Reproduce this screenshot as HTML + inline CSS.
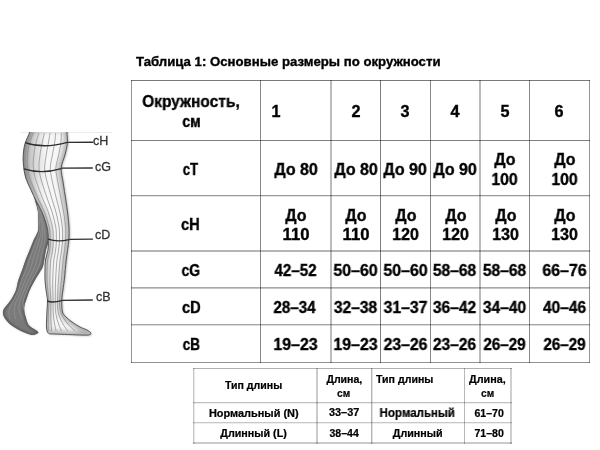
<!DOCTYPE html>
<html><head><meta charset="utf-8"><style>
html,body{margin:0;padding:0;background:#fff;width:600px;height:450px;overflow:hidden}
body{position:relative;-webkit-text-stroke:0.35px #000;font-family:"Liberation Sans",sans-serif;font-weight:bold;color:#000}
.t{position:absolute;white-space:nowrap;will-change:transform}
.c{width:0;display:flex;justify-content:center}
.c span{display:inline-block;white-space:nowrap;transform-origin:50% 50%}
.l{position:absolute;mix-blend-mode:multiply}
svg{position:absolute;left:0;top:0}
.lab{position:absolute;font-weight:normal;-webkit-text-stroke:0.3px #333;font-size:12.5px;line-height:13px;color:#333;will-change:transform}
</style></head><body>
<svg width="130" height="345" viewBox="0 0 130 345">
<defs>
<clipPath id="cf"><path d="M55.00,128.00 C59.48,128.00 64.92,127.30 66.90,128.00 C68.88,128.70 66.82,129.70 66.90,132.20 C66.98,134.70 67.73,139.20 67.40,143.00 C67.07,146.80 65.93,150.83 64.90,155.00 C63.87,159.17 61.48,163.33 61.20,168.00 C60.92,172.67 62.43,177.67 63.20,183.00 C63.97,188.33 65.02,194.67 65.80,200.00 C66.58,205.33 67.37,210.33 67.90,215.00 C68.43,219.67 68.85,223.83 69.00,228.00 C69.15,232.17 69.27,234.67 68.80,240.00 C68.33,245.33 66.92,253.67 66.20,260.00 C65.48,266.33 65.05,273.00 64.50,278.00 C63.95,283.00 63.37,286.33 62.90,290.00 C62.43,293.67 61.77,296.33 61.70,300.00 C61.63,303.67 61.78,309.17 62.50,312.00 C63.22,314.83 64.42,315.33 66.00,317.00 C67.58,318.67 69.67,320.33 72.00,322.00 C74.33,323.67 77.50,325.67 80.00,327.00 C82.50,328.33 85.23,329.03 87.00,330.00 C88.77,330.97 90.35,331.97 90.60,332.80 C90.85,333.63 91.10,334.67 88.50,335.00 C85.90,335.33 80.58,334.97 75.00,334.80 C69.42,334.63 59.42,334.25 55.00,334.00 C50.58,333.75 49.92,334.30 48.50,333.30 C47.08,332.30 46.82,330.22 46.50,328.00 C46.18,325.78 46.52,323.00 46.60,320.00 C46.68,317.00 46.85,313.33 47.00,310.00 C47.15,306.67 47.67,303.33 47.50,300.00 C47.33,296.67 46.42,293.33 46.00,290.00 C45.58,286.67 45.17,283.33 45.00,280.00 C44.83,276.67 44.92,273.33 45.00,270.00 C45.08,266.67 45.00,263.33 45.50,260.00 C46.00,256.67 47.53,253.33 48.00,250.00 C48.47,246.67 48.35,243.33 48.30,240.00 C48.25,236.67 48.25,233.33 47.70,230.00 C47.15,226.67 46.12,223.33 45.00,220.00 C43.88,216.67 42.55,213.33 41.00,210.00 C39.45,206.67 37.37,203.33 35.70,200.00 C34.03,196.67 32.70,193.83 31.00,190.00 C29.30,186.17 26.78,181.50 25.50,177.00 C24.22,172.50 23.63,167.17 23.30,163.00 C22.97,158.83 23.18,155.33 23.50,152.00 C23.82,148.67 24.17,146.30 25.20,143.00 C26.23,139.70 28.95,134.70 29.70,132.20 C30.45,129.70 27.98,128.70 29.70,128.00 C31.42,127.30 35.78,128.00 40.00,128.00 C44.22,128.00 50.52,128.00 55.00,128.00Z"/></clipPath>
<clipPath id="cd"><path d="M34.50,197.00 C34.28,199.33 37.05,206.17 37.70,210.00 C38.35,213.83 38.32,216.67 38.40,220.00 C38.48,223.33 38.55,227.50 38.20,230.00 C37.85,232.50 37.05,233.33 36.30,235.00 C35.55,236.67 34.80,237.50 33.70,240.00 C32.60,242.50 31.05,246.67 29.70,250.00 C28.35,253.33 26.85,256.67 25.60,260.00 C24.35,263.33 23.40,266.67 22.20,270.00 C21.00,273.33 19.43,276.67 18.40,280.00 C17.37,283.33 17.15,286.83 16.00,290.00 C14.85,293.17 13.00,296.50 11.50,299.00 C10.00,301.50 8.35,303.17 7.00,305.00 C5.65,306.83 4.02,308.33 3.40,310.00 C2.78,311.67 2.85,313.33 3.30,315.00 C3.75,316.67 4.82,318.33 6.10,320.00 C7.38,321.67 8.85,323.33 11.00,325.00 C13.15,326.67 16.33,328.58 19.00,330.00 C21.67,331.42 24.67,332.67 27.00,333.50 C29.33,334.33 31.12,335.12 33.00,335.00 C34.88,334.88 37.87,333.63 38.30,332.80 C38.73,331.97 36.62,330.80 35.60,330.00 C34.58,329.20 33.42,328.92 32.20,328.00 C30.98,327.08 29.33,326.17 28.30,324.50 C27.27,322.83 26.65,320.08 26.00,318.00 C25.35,315.92 24.67,314.00 24.40,312.00 C24.13,310.00 24.05,308.17 24.40,306.00 C24.75,303.83 25.60,301.67 26.50,299.00 C27.40,296.33 28.38,293.17 29.80,290.00 C31.22,286.83 33.22,283.17 35.00,280.00 C36.78,276.83 39.12,273.50 40.50,271.00 C41.88,268.50 42.38,268.50 43.30,265.00 C44.22,261.50 44.88,255.00 46.00,250.00 C47.12,245.00 50.00,240.83 50.00,235.00 C50.00,229.17 47.83,221.50 46.00,215.00 C44.17,208.50 40.92,199.00 39.00,196.00 C37.08,193.00 34.72,194.67 34.50,197.00Z"/></clipPath>
<clipPath id="top"><rect x="0" y="132" width="130" height="220"/></clipPath>
<filter id="bl" x="-30%" y="-5%" width="160%" height="110%"><feGaussianBlur stdDeviation="2.2"/></filter>
<filter id="bs" x="-30%" y="-5%" width="160%" height="110%"><feGaussianBlur stdDeviation="1.0"/></filter>
<linearGradient id="lg" gradientUnits="userSpaceOnUse" x1="22" y1="0" x2="46" y2="0"><stop offset="0" stop-color="#000" stop-opacity="0.28"/><stop offset="1" stop-color="#000" stop-opacity="0"/></linearGradient>
<linearGradient id="lgv" gradientUnits="userSpaceOnUse" x1="0" y1="175" x2="0" y2="215"><stop offset="0" stop-color="#fff" stop-opacity="1"/><stop offset="1" stop-color="#fff" stop-opacity="0"/></linearGradient>
<mask id="mk"><rect x="0" y="0" width="130" height="345" fill="url(#lgv)"/></mask>
<filter id="sh2" x="-30%" y="-5%" width="160%" height="110%"><feGaussianBlur stdDeviation="1.1"/></filter>
<filter id="sh" x="-30%" y="-5%" width="160%" height="110%"><feGaussianBlur stdDeviation="0.8"/></filter>
</defs>
<line x1="20" y1="132.5" x2="112" y2="132.5" stroke="#ececec" stroke-width="1"/>
<g clip-path="url(#top)">
<path d="M34.50,197.00 C34.28,199.33 37.05,206.17 37.70,210.00 C38.35,213.83 38.32,216.67 38.40,220.00 C38.48,223.33 38.55,227.50 38.20,230.00 C37.85,232.50 37.05,233.33 36.30,235.00 C35.55,236.67 34.80,237.50 33.70,240.00 C32.60,242.50 31.05,246.67 29.70,250.00 C28.35,253.33 26.85,256.67 25.60,260.00 C24.35,263.33 23.40,266.67 22.20,270.00 C21.00,273.33 19.43,276.67 18.40,280.00 C17.37,283.33 17.15,286.83 16.00,290.00 C14.85,293.17 13.00,296.50 11.50,299.00 C10.00,301.50 8.35,303.17 7.00,305.00 C5.65,306.83 4.02,308.33 3.40,310.00 C2.78,311.67 2.85,313.33 3.30,315.00 C3.75,316.67 4.82,318.33 6.10,320.00 C7.38,321.67 8.85,323.33 11.00,325.00 C13.15,326.67 16.33,328.58 19.00,330.00 C21.67,331.42 24.67,332.67 27.00,333.50 C29.33,334.33 31.12,335.12 33.00,335.00 C34.88,334.88 37.87,333.63 38.30,332.80 C38.73,331.97 36.62,330.80 35.60,330.00 C34.58,329.20 33.42,328.92 32.20,328.00 C30.98,327.08 29.33,326.17 28.30,324.50 C27.27,322.83 26.65,320.08 26.00,318.00 C25.35,315.92 24.67,314.00 24.40,312.00 C24.13,310.00 24.05,308.17 24.40,306.00 C24.75,303.83 25.60,301.67 26.50,299.00 C27.40,296.33 28.38,293.17 29.80,290.00 C31.22,286.83 33.22,283.17 35.00,280.00 C36.78,276.83 39.12,273.50 40.50,271.00 C41.88,268.50 42.38,268.50 43.30,265.00 C44.22,261.50 44.88,255.00 46.00,250.00 C47.12,245.00 50.00,240.83 50.00,235.00 C50.00,229.17 47.83,221.50 46.00,215.00 C44.17,208.50 40.92,199.00 39.00,196.00 C37.08,193.00 34.72,194.67 34.50,197.00Z" fill="#9a9a9a" filter="url(#sh)" opacity="0.6"/>
<path d="M34.50,197.00 C34.28,199.33 37.05,206.17 37.70,210.00 C38.35,213.83 38.32,216.67 38.40,220.00 C38.48,223.33 38.55,227.50 38.20,230.00 C37.85,232.50 37.05,233.33 36.30,235.00 C35.55,236.67 34.80,237.50 33.70,240.00 C32.60,242.50 31.05,246.67 29.70,250.00 C28.35,253.33 26.85,256.67 25.60,260.00 C24.35,263.33 23.40,266.67 22.20,270.00 C21.00,273.33 19.43,276.67 18.40,280.00 C17.37,283.33 17.15,286.83 16.00,290.00 C14.85,293.17 13.00,296.50 11.50,299.00 C10.00,301.50 8.35,303.17 7.00,305.00 C5.65,306.83 4.02,308.33 3.40,310.00 C2.78,311.67 2.85,313.33 3.30,315.00 C3.75,316.67 4.82,318.33 6.10,320.00 C7.38,321.67 8.85,323.33 11.00,325.00 C13.15,326.67 16.33,328.58 19.00,330.00 C21.67,331.42 24.67,332.67 27.00,333.50 C29.33,334.33 31.12,335.12 33.00,335.00 C34.88,334.88 37.87,333.63 38.30,332.80 C38.73,331.97 36.62,330.80 35.60,330.00 C34.58,329.20 33.42,328.92 32.20,328.00 C30.98,327.08 29.33,326.17 28.30,324.50 C27.27,322.83 26.65,320.08 26.00,318.00 C25.35,315.92 24.67,314.00 24.40,312.00 C24.13,310.00 24.05,308.17 24.40,306.00 C24.75,303.83 25.60,301.67 26.50,299.00 C27.40,296.33 28.38,293.17 29.80,290.00 C31.22,286.83 33.22,283.17 35.00,280.00 C36.78,276.83 39.12,273.50 40.50,271.00 C41.88,268.50 42.38,268.50 43.30,265.00 C44.22,261.50 44.88,255.00 46.00,250.00 C47.12,245.00 50.00,240.83 50.00,235.00 C50.00,229.17 47.83,221.50 46.00,215.00 C44.17,208.50 40.92,199.00 39.00,196.00 C37.08,193.00 34.72,194.67 34.50,197.00Z" fill="#7a7a7a"/>
<g clip-path="url(#cd)">
<path d="M34.50,197.00 C34.28,199.33 37.05,206.17 37.70,210.00 C38.35,213.83 38.32,216.67 38.40,220.00 C38.48,223.33 38.55,227.50 38.20,230.00 C37.85,232.50 37.05,233.33 36.30,235.00 C35.55,236.67 34.80,237.50 33.70,240.00 C32.60,242.50 31.05,246.67 29.70,250.00 C28.35,253.33 26.85,256.67 25.60,260.00 C24.35,263.33 23.40,266.67 22.20,270.00 C21.00,273.33 19.43,276.67 18.40,280.00 C17.37,283.33 17.15,286.83 16.00,290.00 C14.85,293.17 13.00,296.50 11.50,299.00 C10.00,301.50 8.35,303.17 7.00,305.00 C5.65,306.83 4.02,308.33 3.40,310.00 C2.78,311.67 2.85,313.33 3.30,315.00 C3.75,316.67 4.82,318.33 6.10,320.00 C7.38,321.67 8.85,323.33 11.00,325.00 C13.15,326.67 16.33,328.58 19.00,330.00 C21.67,331.42 24.67,332.67 27.00,333.50 C29.33,334.33 31.12,335.12 33.00,335.00 C34.88,334.88 37.87,333.63 38.30,332.80 C38.73,331.97 36.62,330.80 35.60,330.00 C34.58,329.20 33.42,328.92 32.20,328.00 C30.98,327.08 29.33,326.17 28.30,324.50 C27.27,322.83 26.65,320.08 26.00,318.00 C25.35,315.92 24.67,314.00 24.40,312.00 C24.13,310.00 24.05,308.17 24.40,306.00 C24.75,303.83 25.60,301.67 26.50,299.00 C27.40,296.33 28.38,293.17 29.80,290.00 C31.22,286.83 33.22,283.17 35.00,280.00 C36.78,276.83 39.12,273.50 40.50,271.00 C41.88,268.50 42.38,268.50 43.30,265.00 C44.22,261.50 44.88,255.00 46.00,250.00 C47.12,245.00 50.00,240.83 50.00,235.00 C50.00,229.17 47.83,221.50 46.00,215.00 C44.17,208.50 40.92,199.00 39.00,196.00 C37.08,193.00 34.72,194.67 34.50,197.00Z" fill="none" stroke="#585858" stroke-width="3" filter="url(#bs)"/>
<path d="M37.27,205.00 C37.49,206.00 38.27,209.00 38.59,211.00 C38.92,213.00 39.04,215.00 39.21,217.00 C39.38,219.00 39.50,221.00 39.59,223.00 C39.68,225.00 39.93,227.00 39.74,229.00 C39.54,231.00 39.03,233.00 38.44,235.00 C37.85,237.00 36.93,239.00 36.20,241.00 C35.47,243.00 34.76,245.00 34.04,247.00 C33.32,249.00 32.59,251.00 31.86,253.00 C31.12,255.00 30.33,257.00 29.65,259.00 C28.97,261.00 28.46,263.00 27.78,265.00 C27.10,267.00 26.35,269.00 25.56,271.00 C24.76,273.00 23.79,275.00 23.00,277.00 C22.21,279.00 21.49,281.00 20.83,283.00 C20.17,285.00 19.80,287.00 19.06,289.00 C18.32,291.00 17.36,293.00 16.39,295.00 C15.43,297.00 14.34,299.00 13.28,301.00 C12.21,303.00 10.74,305.00 10.00,307.00 C9.26,309.00 8.91,311.00 8.85,313.00 C8.80,315.00 9.53,318.00 9.66,319.00" fill="none" stroke="#909090" stroke-width="0.9"/><path d="M38.07,205.00 C38.29,206.00 39.05,209.00 39.41,211.00 C39.78,213.00 39.99,215.00 40.23,217.00 C40.47,219.00 40.67,221.00 40.84,223.00 C41.01,225.00 41.30,227.00 41.25,229.00 C41.21,231.00 40.94,233.00 40.58,235.00 C40.22,237.00 39.67,239.00 39.10,241.00 C38.53,243.00 37.82,245.00 37.18,247.00 C36.54,249.00 35.89,251.00 35.24,253.00 C34.59,255.00 33.88,257.00 33.29,259.00 C32.69,261.00 32.33,263.00 31.66,265.00 C30.99,267.00 30.16,269.00 29.29,271.00 C28.42,273.00 27.34,275.00 26.46,277.00 C25.57,279.00 24.75,281.00 23.98,283.00 C23.22,285.00 22.65,287.00 21.87,289.00 C21.09,291.00 20.17,293.00 19.29,295.00 C18.40,297.00 17.36,299.00 16.55,301.00 C15.74,303.00 14.80,305.00 14.44,307.00 C14.08,309.00 14.10,311.00 14.37,313.00 C14.63,315.00 15.75,318.00 16.03,319.00" fill="none" stroke="#909090" stroke-width="0.9"/><path d="M38.87,205.00 C39.10,206.00 39.84,209.00 40.24,211.00 C40.63,213.00 40.94,215.00 41.25,217.00 C41.56,219.00 41.84,221.00 42.10,223.00 C42.35,225.00 42.66,227.00 42.77,229.00 C42.87,231.00 42.85,233.00 42.72,235.00 C42.59,237.00 42.40,239.00 42.00,241.00 C41.60,243.00 40.88,245.00 40.32,247.00 C39.76,249.00 39.19,251.00 38.63,253.00 C38.06,255.00 37.44,257.00 36.92,259.00 C36.41,261.00 36.19,263.00 35.54,265.00 C34.89,267.00 33.97,269.00 33.03,271.00 C32.09,273.00 30.90,275.00 29.92,277.00 C28.93,279.00 28.01,281.00 27.14,283.00 C26.26,285.00 25.51,287.00 24.69,289.00 C23.86,291.00 22.99,293.00 22.18,295.00 C21.37,297.00 20.38,299.00 19.83,301.00 C19.28,303.00 18.87,305.00 18.88,307.00 C18.89,309.00 19.29,311.00 19.88,313.00 C20.47,315.00 21.97,318.00 22.39,319.00" fill="none" stroke="#909090" stroke-width="0.9"/><path d="M39.67,205.00 C39.90,206.00 40.63,209.00 41.06,211.00 C41.49,213.00 41.89,215.00 42.27,217.00 C42.65,219.00 43.01,221.00 43.35,223.00 C43.68,225.00 44.03,227.00 44.28,229.00 C44.54,231.00 44.76,233.00 44.86,235.00 C44.96,237.00 45.13,239.00 44.90,241.00 C44.67,243.00 43.94,245.00 43.46,247.00 C42.98,249.00 42.50,251.00 42.01,253.00 C41.53,255.00 40.99,257.00 40.56,259.00 C40.13,261.00 40.05,263.00 39.42,265.00 C38.79,267.00 37.77,269.00 36.76,271.00 C35.76,273.00 34.45,275.00 33.37,277.00 C32.30,279.00 31.27,281.00 30.29,283.00 C29.31,285.00 28.37,287.00 27.50,289.00 C26.63,291.00 25.81,293.00 25.07,295.00 C24.34,297.00 23.40,299.00 23.10,301.00 C22.81,303.00 22.94,305.00 23.32,307.00 C23.70,309.00 24.49,311.00 25.39,313.00 C26.30,315.00 28.20,318.00 28.76,319.00" fill="none" stroke="#909090" stroke-width="0.9"/>
</g>
<path d="M55.00,128.00 C59.48,128.00 64.92,127.30 66.90,128.00 C68.88,128.70 66.82,129.70 66.90,132.20 C66.98,134.70 67.73,139.20 67.40,143.00 C67.07,146.80 65.93,150.83 64.90,155.00 C63.87,159.17 61.48,163.33 61.20,168.00 C60.92,172.67 62.43,177.67 63.20,183.00 C63.97,188.33 65.02,194.67 65.80,200.00 C66.58,205.33 67.37,210.33 67.90,215.00 C68.43,219.67 68.85,223.83 69.00,228.00 C69.15,232.17 69.27,234.67 68.80,240.00 C68.33,245.33 66.92,253.67 66.20,260.00 C65.48,266.33 65.05,273.00 64.50,278.00 C63.95,283.00 63.37,286.33 62.90,290.00 C62.43,293.67 61.77,296.33 61.70,300.00 C61.63,303.67 61.78,309.17 62.50,312.00 C63.22,314.83 64.42,315.33 66.00,317.00 C67.58,318.67 69.67,320.33 72.00,322.00 C74.33,323.67 77.50,325.67 80.00,327.00 C82.50,328.33 85.23,329.03 87.00,330.00 C88.77,330.97 90.35,331.97 90.60,332.80 C90.85,333.63 91.10,334.67 88.50,335.00 C85.90,335.33 80.58,334.97 75.00,334.80 C69.42,334.63 59.42,334.25 55.00,334.00 C50.58,333.75 49.92,334.30 48.50,333.30 C47.08,332.30 46.82,330.22 46.50,328.00 C46.18,325.78 46.52,323.00 46.60,320.00 C46.68,317.00 46.85,313.33 47.00,310.00 C47.15,306.67 47.67,303.33 47.50,300.00 C47.33,296.67 46.42,293.33 46.00,290.00 C45.58,286.67 45.17,283.33 45.00,280.00 C44.83,276.67 44.92,273.33 45.00,270.00 C45.08,266.67 45.00,263.33 45.50,260.00 C46.00,256.67 47.53,253.33 48.00,250.00 C48.47,246.67 48.35,243.33 48.30,240.00 C48.25,236.67 48.25,233.33 47.70,230.00 C47.15,226.67 46.12,223.33 45.00,220.00 C43.88,216.67 42.55,213.33 41.00,210.00 C39.45,206.67 37.37,203.33 35.70,200.00 C34.03,196.67 32.70,193.83 31.00,190.00 C29.30,186.17 26.78,181.50 25.50,177.00 C24.22,172.50 23.63,167.17 23.30,163.00 C22.97,158.83 23.18,155.33 23.50,152.00 C23.82,148.67 24.17,146.30 25.20,143.00 C26.23,139.70 28.95,134.70 29.70,132.20 C30.45,129.70 27.98,128.70 29.70,128.00 C31.42,127.30 35.78,128.00 40.00,128.00 C44.22,128.00 50.52,128.00 55.00,128.00Z" fill="#707070" filter="url(#sh2)" opacity="0.55" transform="translate(1,0.6)"/>
<path d="M55.00,128.00 C59.48,128.00 64.92,127.30 66.90,128.00 C68.88,128.70 66.82,129.70 66.90,132.20 C66.98,134.70 67.73,139.20 67.40,143.00 C67.07,146.80 65.93,150.83 64.90,155.00 C63.87,159.17 61.48,163.33 61.20,168.00 C60.92,172.67 62.43,177.67 63.20,183.00 C63.97,188.33 65.02,194.67 65.80,200.00 C66.58,205.33 67.37,210.33 67.90,215.00 C68.43,219.67 68.85,223.83 69.00,228.00 C69.15,232.17 69.27,234.67 68.80,240.00 C68.33,245.33 66.92,253.67 66.20,260.00 C65.48,266.33 65.05,273.00 64.50,278.00 C63.95,283.00 63.37,286.33 62.90,290.00 C62.43,293.67 61.77,296.33 61.70,300.00 C61.63,303.67 61.78,309.17 62.50,312.00 C63.22,314.83 64.42,315.33 66.00,317.00 C67.58,318.67 69.67,320.33 72.00,322.00 C74.33,323.67 77.50,325.67 80.00,327.00 C82.50,328.33 85.23,329.03 87.00,330.00 C88.77,330.97 90.35,331.97 90.60,332.80 C90.85,333.63 91.10,334.67 88.50,335.00 C85.90,335.33 80.58,334.97 75.00,334.80 C69.42,334.63 59.42,334.25 55.00,334.00 C50.58,333.75 49.92,334.30 48.50,333.30 C47.08,332.30 46.82,330.22 46.50,328.00 C46.18,325.78 46.52,323.00 46.60,320.00 C46.68,317.00 46.85,313.33 47.00,310.00 C47.15,306.67 47.67,303.33 47.50,300.00 C47.33,296.67 46.42,293.33 46.00,290.00 C45.58,286.67 45.17,283.33 45.00,280.00 C44.83,276.67 44.92,273.33 45.00,270.00 C45.08,266.67 45.00,263.33 45.50,260.00 C46.00,256.67 47.53,253.33 48.00,250.00 C48.47,246.67 48.35,243.33 48.30,240.00 C48.25,236.67 48.25,233.33 47.70,230.00 C47.15,226.67 46.12,223.33 45.00,220.00 C43.88,216.67 42.55,213.33 41.00,210.00 C39.45,206.67 37.37,203.33 35.70,200.00 C34.03,196.67 32.70,193.83 31.00,190.00 C29.30,186.17 26.78,181.50 25.50,177.00 C24.22,172.50 23.63,167.17 23.30,163.00 C22.97,158.83 23.18,155.33 23.50,152.00 C23.82,148.67 24.17,146.30 25.20,143.00 C26.23,139.70 28.95,134.70 29.70,132.20 C30.45,129.70 27.98,128.70 29.70,128.00 C31.42,127.30 35.78,128.00 40.00,128.00 C44.22,128.00 50.52,128.00 55.00,128.00Z" fill="#f6f6f6"/>
<g clip-path="url(#cf)">
<path d="M55.00,128.00 C59.48,128.00 64.92,127.30 66.90,128.00 C68.88,128.70 66.82,129.70 66.90,132.20 C66.98,134.70 67.73,139.20 67.40,143.00 C67.07,146.80 65.93,150.83 64.90,155.00 C63.87,159.17 61.48,163.33 61.20,168.00 C60.92,172.67 62.43,177.67 63.20,183.00 C63.97,188.33 65.02,194.67 65.80,200.00 C66.58,205.33 67.37,210.33 67.90,215.00 C68.43,219.67 68.85,223.83 69.00,228.00 C69.15,232.17 69.27,234.67 68.80,240.00 C68.33,245.33 66.92,253.67 66.20,260.00 C65.48,266.33 65.05,273.00 64.50,278.00 C63.95,283.00 63.37,286.33 62.90,290.00 C62.43,293.67 61.77,296.33 61.70,300.00 C61.63,303.67 61.78,309.17 62.50,312.00 C63.22,314.83 64.42,315.33 66.00,317.00 C67.58,318.67 69.67,320.33 72.00,322.00 C74.33,323.67 77.50,325.67 80.00,327.00 C82.50,328.33 85.23,329.03 87.00,330.00 C88.77,330.97 90.35,331.97 90.60,332.80 C90.85,333.63 91.10,334.67 88.50,335.00 C85.90,335.33 80.58,334.97 75.00,334.80 C69.42,334.63 59.42,334.25 55.00,334.00 C50.58,333.75 49.92,334.30 48.50,333.30 C47.08,332.30 46.82,330.22 46.50,328.00 C46.18,325.78 46.52,323.00 46.60,320.00 C46.68,317.00 46.85,313.33 47.00,310.00 C47.15,306.67 47.67,303.33 47.50,300.00 C47.33,296.67 46.42,293.33 46.00,290.00 C45.58,286.67 45.17,283.33 45.00,280.00 C44.83,276.67 44.92,273.33 45.00,270.00 C45.08,266.67 45.00,263.33 45.50,260.00 C46.00,256.67 47.53,253.33 48.00,250.00 C48.47,246.67 48.35,243.33 48.30,240.00 C48.25,236.67 48.25,233.33 47.70,230.00 C47.15,226.67 46.12,223.33 45.00,220.00 C43.88,216.67 42.55,213.33 41.00,210.00 C39.45,206.67 37.37,203.33 35.70,200.00 C34.03,196.67 32.70,193.83 31.00,190.00 C29.30,186.17 26.78,181.50 25.50,177.00 C24.22,172.50 23.63,167.17 23.30,163.00 C22.97,158.83 23.18,155.33 23.50,152.00 C23.82,148.67 24.17,146.30 25.20,143.00 C26.23,139.70 28.95,134.70 29.70,132.20 C30.45,129.70 27.98,128.70 29.70,128.00 C31.42,127.30 35.78,128.00 40.00,128.00 C44.22,128.00 50.52,128.00 55.00,128.00Z" fill="none" stroke="#b4b4b4" stroke-width="7" filter="url(#bl)"/>
<rect x="0" y="128" width="130" height="100" fill="url(#lg)" mask="url(#mk)"/>
<path d="M33.12,133.00 C32.75,134.00 31.58,137.00 30.90,139.00 C30.22,141.00 29.54,143.00 29.04,145.00 C28.54,147.00 28.15,149.00 27.89,151.00 C27.64,153.00 27.61,155.00 27.50,157.00 C27.39,159.00 27.16,161.00 27.23,163.00 C27.31,165.00 27.68,167.00 27.95,169.00 C28.23,171.00 28.41,173.00 28.88,175.00 C29.35,177.00 30.06,179.00 30.77,181.00 C31.48,183.00 32.33,185.00 33.14,187.00 C33.95,189.00 34.79,191.00 35.64,193.00 C36.50,195.00 37.35,197.00 38.27,199.00 C39.19,201.00 40.21,203.00 41.16,205.00 C42.12,207.00 43.15,209.00 43.99,211.00 C44.84,213.00 45.54,215.00 46.23,217.00 C46.91,219.00 47.53,221.00 48.09,223.00 C48.65,225.00 49.25,227.00 49.59,229.00 C49.92,231.00 49.97,233.00 50.09,235.00 C50.21,237.00 50.31,239.00 50.31,241.00 C50.31,243.00 50.25,245.00 50.07,247.00 C49.89,249.00 49.61,251.00 49.24,253.00 C48.86,255.00 48.13,257.00 47.81,259.00 C47.48,261.00 47.43,263.00 47.30,265.00 C47.17,267.00 47.07,269.00 47.02,271.00 C46.96,273.00 46.94,275.00 46.96,277.00 C46.98,279.00 47.04,281.00 47.15,283.00 C47.26,285.00 47.42,287.00 47.61,289.00 C47.81,291.00 48.09,293.00 48.30,295.00 C48.52,297.00 48.82,299.00 48.88,301.00 C48.93,303.00 48.70,305.00 48.62,307.00 C48.54,309.00 48.47,311.00 48.40,313.00 C48.34,315.00 48.27,317.00 48.24,319.00 C48.21,321.00 48.21,323.00 48.22,325.00 C48.23,327.00 48.27,330.00 48.28,331.00" fill="none" stroke="#8f8f8f" stroke-width="0.75"/><path d="M38.76,133.00 C38.46,134.00 37.52,137.00 36.95,139.00 C36.39,141.00 35.82,143.00 35.36,145.00 C34.90,147.00 34.49,149.00 34.20,151.00 C33.91,153.00 33.82,155.00 33.64,157.00 C33.46,159.00 33.15,161.00 33.13,163.00 C33.11,165.00 33.30,167.00 33.52,169.00 C33.73,171.00 33.99,173.00 34.42,175.00 C34.86,177.00 35.49,179.00 36.13,181.00 C36.77,183.00 37.52,185.00 38.25,187.00 C38.98,189.00 39.73,191.00 40.49,193.00 C41.25,195.00 42.02,197.00 42.83,199.00 C43.65,201.00 44.55,203.00 45.39,205.00 C46.23,207.00 47.14,209.00 47.88,211.00 C48.63,213.00 49.26,215.00 49.87,217.00 C50.47,219.00 51.01,221.00 51.50,223.00 C51.99,225.00 52.53,227.00 52.82,229.00 C53.10,231.00 53.13,233.00 53.22,235.00 C53.31,237.00 53.40,239.00 53.37,241.00 C53.34,243.00 53.23,245.00 53.04,247.00 C52.85,249.00 52.57,251.00 52.22,253.00 C51.86,255.00 51.20,257.00 50.89,259.00 C50.59,261.00 50.51,263.00 50.37,265.00 C50.23,267.00 50.12,269.00 50.04,271.00 C49.96,273.00 49.92,275.00 49.90,277.00 C49.88,279.00 49.89,281.00 49.93,283.00 C49.98,285.00 50.07,287.00 50.18,289.00 C50.30,291.00 50.50,293.00 50.64,295.00 C50.78,297.00 50.99,299.00 51.02,301.00 C51.05,303.00 50.87,305.00 50.83,307.00 C50.78,309.00 50.76,311.00 50.77,313.00 C50.77,315.00 50.79,317.00 50.87,319.00 C50.94,321.00 51.07,323.00 51.21,325.00 C51.36,327.00 51.66,330.00 51.75,331.00" fill="none" stroke="#8f8f8f" stroke-width="0.75"/><path d="M44.39,133.00 C44.16,134.00 43.46,137.00 43.01,139.00 C42.55,141.00 42.10,143.00 41.69,145.00 C41.27,147.00 40.82,149.00 40.51,151.00 C40.19,153.00 40.02,155.00 39.78,157.00 C39.53,159.00 39.15,161.00 39.03,163.00 C38.91,165.00 38.92,167.00 39.08,169.00 C39.23,171.00 39.56,173.00 39.96,175.00 C40.37,177.00 40.92,179.00 41.49,181.00 C42.06,183.00 42.72,185.00 43.36,187.00 C44.00,189.00 44.67,191.00 45.34,193.00 C46.01,195.00 46.68,197.00 47.40,199.00 C48.11,201.00 48.88,203.00 49.61,205.00 C50.34,207.00 51.13,209.00 51.78,211.00 C52.43,213.00 52.98,215.00 53.51,217.00 C54.03,219.00 54.49,221.00 54.92,223.00 C55.34,225.00 55.81,227.00 56.05,229.00 C56.29,231.00 56.29,233.00 56.35,235.00 C56.42,237.00 56.49,239.00 56.43,241.00 C56.37,243.00 56.22,245.00 56.01,247.00 C55.80,249.00 55.53,251.00 55.19,253.00 C54.86,255.00 54.27,257.00 53.98,259.00 C53.69,261.00 53.59,263.00 53.44,265.00 C53.29,267.00 53.17,269.00 53.06,271.00 C52.96,273.00 52.90,275.00 52.84,277.00 C52.78,279.00 52.73,281.00 52.71,283.00 C52.70,285.00 52.71,287.00 52.75,289.00 C52.80,291.00 52.90,293.00 52.97,295.00 C53.04,297.00 53.15,299.00 53.16,301.00 C53.17,303.00 53.03,305.00 53.04,307.00 C53.05,309.00 53.09,311.00 53.22,313.00 C53.34,315.00 53.51,317.00 53.77,319.00 C54.03,321.00 54.37,323.00 54.77,325.00 C55.16,327.00 55.93,330.00 56.16,331.00" fill="none" stroke="#8f8f8f" stroke-width="0.75"/><path d="M50.03,133.00 C49.87,134.00 49.39,137.00 49.06,139.00 C48.72,141.00 48.38,143.00 48.01,145.00 C47.64,147.00 47.16,149.00 46.81,151.00 C46.46,153.00 46.23,155.00 45.92,157.00 C45.60,159.00 45.14,161.00 44.93,163.00 C44.72,165.00 44.55,167.00 44.64,169.00 C44.74,171.00 45.14,173.00 45.51,175.00 C45.87,177.00 46.36,179.00 46.85,181.00 C47.34,183.00 47.92,185.00 48.48,187.00 C49.03,189.00 49.60,191.00 50.19,193.00 C50.77,195.00 51.35,197.00 51.96,199.00 C52.57,201.00 53.21,203.00 53.83,205.00 C54.45,207.00 55.11,209.00 55.67,211.00 C56.22,213.00 56.70,215.00 57.15,217.00 C57.59,219.00 57.98,221.00 58.33,223.00 C58.69,225.00 59.09,227.00 59.28,229.00 C59.48,231.00 59.45,233.00 59.49,235.00 C59.52,237.00 59.57,239.00 59.49,241.00 C59.41,243.00 59.20,245.00 58.98,247.00 C58.76,249.00 58.49,251.00 58.17,253.00 C57.85,255.00 57.35,257.00 57.07,259.00 C56.79,261.00 56.68,263.00 56.51,265.00 C56.35,267.00 56.21,269.00 56.09,271.00 C55.97,273.00 55.88,275.00 55.78,277.00 C55.68,279.00 55.57,281.00 55.49,283.00 C55.42,285.00 55.36,287.00 55.32,289.00 C55.29,291.00 55.31,293.00 55.30,295.00 C55.30,297.00 55.30,299.00 55.30,301.00 C55.29,303.00 55.18,305.00 55.26,307.00 C55.33,309.00 55.47,311.00 55.76,313.00 C56.04,315.00 56.43,317.00 56.95,319.00 C57.47,321.00 58.12,323.00 58.88,325.00 C59.64,327.00 61.07,330.00 61.51,331.00" fill="none" stroke="#8f8f8f" stroke-width="0.75"/><path d="M55.67,133.00 C55.57,134.00 55.33,137.00 55.11,139.00 C54.89,141.00 54.67,143.00 54.33,145.00 C54.00,147.00 53.50,149.00 53.12,151.00 C52.74,153.00 52.44,155.00 52.05,157.00 C51.67,159.00 51.13,161.00 50.83,163.00 C50.52,165.00 50.17,167.00 50.21,169.00 C50.24,171.00 50.71,173.00 51.05,175.00 C51.38,177.00 51.79,179.00 52.21,181.00 C52.63,183.00 53.12,185.00 53.59,187.00 C54.06,189.00 54.54,191.00 55.03,193.00 C55.52,195.00 56.02,197.00 56.52,199.00 C57.03,201.00 57.55,203.00 58.05,205.00 C58.56,207.00 59.10,209.00 59.56,211.00 C60.01,213.00 60.42,215.00 60.79,217.00 C61.15,219.00 61.46,221.00 61.75,223.00 C62.03,225.00 62.37,227.00 62.52,229.00 C62.66,231.00 62.61,233.00 62.62,235.00 C62.62,237.00 62.66,239.00 62.55,241.00 C62.44,243.00 62.18,245.00 61.95,247.00 C61.72,249.00 61.45,251.00 61.15,253.00 C60.85,255.00 60.42,257.00 60.16,259.00 C59.89,261.00 59.76,263.00 59.58,265.00 C59.41,267.00 59.26,269.00 59.11,271.00 C58.97,273.00 58.86,275.00 58.72,277.00 C58.58,279.00 58.41,281.00 58.27,283.00 C58.14,285.00 58.00,287.00 57.89,289.00 C57.79,291.00 57.71,293.00 57.63,295.00 C57.56,297.00 57.46,299.00 57.44,301.00 C57.41,303.00 57.32,305.00 57.48,307.00 C57.64,309.00 57.90,311.00 58.39,313.00 C58.87,315.00 59.54,317.00 60.40,319.00 C61.26,321.00 62.31,323.00 63.55,325.00 C64.79,327.00 67.11,330.00 67.82,331.00" fill="none" stroke="#8f8f8f" stroke-width="0.75"/><path d="M61.30,133.00 C61.28,134.00 61.27,137.00 61.16,139.00 C61.06,141.00 60.95,143.00 60.66,145.00 C60.37,147.00 59.84,149.00 59.43,151.00 C59.02,153.00 58.64,155.00 58.19,157.00 C57.74,159.00 57.13,161.00 56.72,163.00 C56.32,165.00 55.79,167.00 55.77,169.00 C55.75,171.00 56.29,173.00 56.59,175.00 C56.89,177.00 57.22,179.00 57.57,181.00 C57.92,183.00 58.31,185.00 58.70,187.00 C59.08,189.00 59.48,191.00 59.88,193.00 C60.28,195.00 60.69,197.00 61.08,199.00 C61.48,201.00 61.88,203.00 62.28,205.00 C62.67,207.00 63.09,209.00 63.45,211.00 C63.81,213.00 64.14,215.00 64.43,217.00 C64.71,219.00 64.94,221.00 65.16,223.00 C65.38,225.00 65.65,227.00 65.75,229.00 C65.85,231.00 65.77,233.00 65.75,235.00 C65.73,237.00 65.75,239.00 65.61,241.00 C65.47,243.00 65.17,245.00 64.92,247.00 C64.67,249.00 64.41,251.00 64.13,253.00 C63.85,255.00 63.49,257.00 63.24,259.00 C63.00,261.00 62.84,263.00 62.66,265.00 C62.47,267.00 62.30,269.00 62.14,271.00 C61.97,273.00 61.84,275.00 61.66,277.00 C61.47,279.00 61.25,281.00 61.05,283.00 C60.85,285.00 60.64,287.00 60.46,289.00 C60.28,291.00 60.12,293.00 59.97,295.00 C59.82,297.00 59.62,299.00 59.58,301.00 C59.53,303.00 59.45,305.00 59.71,307.00 C59.96,309.00 60.37,311.00 61.11,313.00 C61.84,315.00 62.84,317.00 64.12,319.00 C65.40,321.00 66.96,323.00 68.78,325.00 C70.60,327.00 74.02,330.00 75.07,331.00" fill="none" stroke="#8f8f8f" stroke-width="0.75"/>
</g>
<path d="M55.00,128.00 C59.48,128.00 64.92,127.30 66.90,128.00 C68.88,128.70 66.82,129.70 66.90,132.20 C66.98,134.70 67.73,139.20 67.40,143.00 C67.07,146.80 65.93,150.83 64.90,155.00 C63.87,159.17 61.48,163.33 61.20,168.00 C60.92,172.67 62.43,177.67 63.20,183.00 C63.97,188.33 65.02,194.67 65.80,200.00 C66.58,205.33 67.37,210.33 67.90,215.00 C68.43,219.67 68.85,223.83 69.00,228.00 C69.15,232.17 69.27,234.67 68.80,240.00 C68.33,245.33 66.92,253.67 66.20,260.00 C65.48,266.33 65.05,273.00 64.50,278.00 C63.95,283.00 63.37,286.33 62.90,290.00 C62.43,293.67 61.77,296.33 61.70,300.00 C61.63,303.67 61.78,309.17 62.50,312.00 C63.22,314.83 64.42,315.33 66.00,317.00 C67.58,318.67 69.67,320.33 72.00,322.00 C74.33,323.67 77.50,325.67 80.00,327.00 C82.50,328.33 85.23,329.03 87.00,330.00 C88.77,330.97 90.35,331.97 90.60,332.80 C90.85,333.63 91.10,334.67 88.50,335.00 C85.90,335.33 80.58,334.97 75.00,334.80 C69.42,334.63 59.42,334.25 55.00,334.00 C50.58,333.75 49.92,334.30 48.50,333.30 C47.08,332.30 46.82,330.22 46.50,328.00 C46.18,325.78 46.52,323.00 46.60,320.00 C46.68,317.00 46.85,313.33 47.00,310.00 C47.15,306.67 47.67,303.33 47.50,300.00 C47.33,296.67 46.42,293.33 46.00,290.00 C45.58,286.67 45.17,283.33 45.00,280.00 C44.83,276.67 44.92,273.33 45.00,270.00 C45.08,266.67 45.00,263.33 45.50,260.00 C46.00,256.67 47.53,253.33 48.00,250.00 C48.47,246.67 48.35,243.33 48.30,240.00 C48.25,236.67 48.25,233.33 47.70,230.00 C47.15,226.67 46.12,223.33 45.00,220.00 C43.88,216.67 42.55,213.33 41.00,210.00 C39.45,206.67 37.37,203.33 35.70,200.00 C34.03,196.67 32.70,193.83 31.00,190.00 C29.30,186.17 26.78,181.50 25.50,177.00 C24.22,172.50 23.63,167.17 23.30,163.00 C22.97,158.83 23.18,155.33 23.50,152.00 C23.82,148.67 24.17,146.30 25.20,143.00 C26.23,139.70 28.95,134.70 29.70,132.20 C30.45,129.70 27.98,128.70 29.70,128.00 C31.42,127.30 35.78,128.00 40.00,128.00 C44.22,128.00 50.52,128.00 55.00,128.00Z" fill="none" stroke="#4a4a4a" stroke-width="0.9"/>
</g>
<path d="M25.2,142.6 Q43.80,149.10 67.2,142.4" fill="none" stroke="#2e2e2e" stroke-width="1.4"/><path d="M23.8,168.8 Q41.45,174.50 61.3,168.6" fill="none" stroke="#2e2e2e" stroke-width="1.4"/><path d="M48.1,239.2 Q57.35,242.40 69.2,239.6" fill="none" stroke="#2e2e2e" stroke-width="1.4"/><path d="M47.2,300.8 Q51.50,303.30 61.8,300.6" fill="none" stroke="#2e2e2e" stroke-width="1.4"/>
<line x1="67.2" y1="142.3" x2="93.2" y2="142.25" stroke="#2e2e2e" stroke-width="1.3"/><line x1="61.3" y1="168.2" x2="92.8" y2="168.0" stroke="#2e2e2e" stroke-width="1.3"/><line x1="69.2" y1="239.4" x2="93" y2="239.1" stroke="#2e2e2e" stroke-width="1.3"/><line x1="61.8" y1="300.3" x2="92.8" y2="300.0" stroke="#2e2e2e" stroke-width="1.3"/>
</svg>
<div class="lab" style="left:92.6px;top:134.90px">cH</div>
<div class="lab" style="left:94.6px;top:160.55px">cG</div>
<div class="lab" style="left:95.1px;top:229.30px">cD</div>
<div class="lab" style="left:96.3px;top:291.30px">cB</div>

<div class="l" style="left:131.00px;top:80.00px;width:1px;height:283.00px;background:#959595"></div><div class="l" style="left:260.00px;top:80.00px;width:1px;height:283.00px;background:#888"></div><div class="l" style="left:330.00px;top:80.00px;width:1px;height:283.00px;background:#bbb"></div><div class="l" style="left:331.00px;top:80.00px;width:1px;height:283.00px;background:#bbb"></div><div class="l" style="left:380.00px;top:80.00px;width:1px;height:283.00px;background:#7d7d7d"></div><div class="l" style="left:430.00px;top:80.00px;width:1px;height:283.00px;background:#888"></div><div class="l" style="left:479.00px;top:80.00px;width:1px;height:283.00px;background:#bbb"></div><div class="l" style="left:480.00px;top:80.00px;width:1px;height:283.00px;background:#bbb"></div><div class="l" style="left:529.00px;top:80.00px;width:1px;height:283.00px;background:#888"></div><div class="l" style="left:589.00px;top:80.00px;width:1px;height:283.00px;background:#959595"></div><div class="l" style="left:131.00px;top:80.00px;width:459.00px;height:1px;background:#7a7a7a"></div><div class="l" style="left:131.00px;top:140.00px;width:459.00px;height:1px;background:#808080"></div><div class="l" style="left:131.00px;top:195.00px;width:459.00px;height:1px;background:#999"></div><div class="l" style="left:131.00px;top:196.00px;width:459.00px;height:1px;background:#e5e5e5"></div><div class="l" style="left:131.00px;top:250.00px;width:459.00px;height:1px;background:#b5b5b5"></div><div class="l" style="left:131.00px;top:251.00px;width:459.00px;height:1px;background:#b5b5b5"></div><div class="l" style="left:131.00px;top:287.00px;width:459.00px;height:1px;background:#aaa"></div><div class="l" style="left:131.00px;top:288.00px;width:459.00px;height:1px;background:#c5c5c5"></div><div class="l" style="left:131.00px;top:324.00px;width:459.00px;height:1px;background:#a5a5a5"></div><div class="l" style="left:131.00px;top:325.00px;width:459.00px;height:1px;background:#ddd"></div><div class="l" style="left:131.00px;top:362.00px;width:459.00px;height:1px;background:#929292"></div><div class="l" style="left:193.00px;top:368.00px;width:1px;height:76.00px;background:#c8c8c8"></div><div class="l" style="left:194.00px;top:368.00px;width:1px;height:76.00px;background:#e8e8e8"></div><div class="l" style="left:316.00px;top:368.00px;width:1px;height:76.00px;background:#cbcbcb"></div><div class="l" style="left:317.00px;top:368.00px;width:1px;height:76.00px;background:#cbcbcb"></div><div class="l" style="left:371.00px;top:368.00px;width:1px;height:76.00px;background:#b5b5b5"></div><div class="l" style="left:372.00px;top:368.00px;width:1px;height:76.00px;background:#e0e0e0"></div><div class="l" style="left:464.00px;top:368.00px;width:1px;height:76.00px;background:#b8b8b8"></div><div class="l" style="left:510.00px;top:368.00px;width:1px;height:76.00px;background:#cfcfcf"></div><div class="l" style="left:511.00px;top:368.00px;width:1px;height:76.00px;background:#cfcfcf"></div><div class="l" style="left:193.00px;top:368.00px;width:319.00px;height:1px;background:#b0b0b0"></div><div class="l" style="left:193.00px;top:402.00px;width:319.00px;height:1px;background:#c0c0c0"></div><div class="l" style="left:193.00px;top:403.00px;width:319.00px;height:1px;background:#eee"></div><div class="l" style="left:193.00px;top:422.00px;width:319.00px;height:1px;background:#c8c8c8"></div><div class="l" style="left:193.00px;top:423.00px;width:319.00px;height:1px;background:#eee"></div><div class="l" style="left:193.00px;top:442.00px;width:319.00px;height:1px;background:#cacaca"></div><div class="l" style="left:193.00px;top:443.00px;width:319.00px;height:1px;background:#cacaca"></div>
<div class="t" style="left:135.60px;top:54.90px;font-size:13px;line-height:13px;transform:scaleX(1.0140);transform-origin:0 0">Таблица 1: Основные размеры по окружности</div><div class="t c" style="left:190.80px;top:92.69px;font-size:16.2px;line-height:16.2px"><span style="transform:scaleX(0.9571)">Окружность,</span></div><div class="t c" style="left:191.30px;top:113.49px;font-size:16.2px;line-height:16.2px"><span style="transform:scaleX(0.8759)">см</span></div><div class="t c" style="left:275.50px;top:103.29px;font-size:16.2px;line-height:16.2px"><span style="transform:scaleX(1.0000)">1</span></div><div class="t c" style="left:355.60px;top:103.29px;font-size:16.2px;line-height:16.2px"><span style="transform:scaleX(1.0000)">2</span></div><div class="t c" style="left:405.20px;top:103.29px;font-size:16.2px;line-height:16.2px"><span style="transform:scaleX(1.0000)">3</span></div><div class="t c" style="left:455.00px;top:103.29px;font-size:16.2px;line-height:16.2px"><span style="transform:scaleX(1.0000)">4</span></div><div class="t c" style="left:504.70px;top:103.29px;font-size:16.2px;line-height:16.2px"><span style="transform:scaleX(1.0000)">5</span></div><div class="t c" style="left:559.30px;top:103.29px;font-size:16.2px;line-height:16.2px"><span style="transform:scaleX(1.0000)">6</span></div><div class="t c" style="left:189.90px;top:161.39px;font-size:16.2px;line-height:16.2px"><span style="transform:scaleX(0.8139)">cT</span></div><div class="t c" style="left:295.50px;top:160.79px;font-size:16.2px;line-height:16.2px"><span style="transform:scaleX(0.9884)">До 80</span></div><div class="t c" style="left:356.30px;top:160.79px;font-size:16.2px;line-height:16.2px"><span style="transform:scaleX(0.9884)">До 80</span></div><div class="t c" style="left:405.00px;top:160.79px;font-size:16.2px;line-height:16.2px"><span style="transform:scaleX(0.9884)">До 90</span></div><div class="t c" style="left:454.75px;top:160.79px;font-size:16.2px;line-height:16.2px"><span style="transform:scaleX(0.9884)">До 90</span></div><div class="t c" style="left:504.80px;top:151.19px;font-size:16.2px;line-height:16.2px"><span style="transform:scaleX(0.9812)">До</span></div><div class="t c" style="left:504.10px;top:170.89px;font-size:16.2px;line-height:16.2px"><span style="transform:scaleX(0.9699)">100</span></div><div class="t c" style="left:565.00px;top:151.19px;font-size:16.2px;line-height:16.2px"><span style="transform:scaleX(0.9812)">До</span></div><div class="t c" style="left:564.00px;top:170.89px;font-size:16.2px;line-height:16.2px"><span style="transform:scaleX(0.9699)">100</span></div><div class="t c" style="left:189.90px;top:216.19px;font-size:16.2px;line-height:16.2px"><span style="transform:scaleX(0.9035)">cH</span></div><div class="t c" style="left:296.00px;top:207.29px;font-size:16.2px;line-height:16.2px"><span style="transform:scaleX(0.9812)">До</span></div><div class="t c" style="left:296.00px;top:225.99px;font-size:16.2px;line-height:16.2px"><span style="transform:scaleX(1.0312)">110</span></div><div class="t c" style="left:355.90px;top:207.29px;font-size:16.2px;line-height:16.2px"><span style="transform:scaleX(0.9812)">До</span></div><div class="t c" style="left:355.90px;top:225.99px;font-size:16.2px;line-height:16.2px"><span style="transform:scaleX(1.0312)">110</span></div><div class="t c" style="left:405.60px;top:207.29px;font-size:16.2px;line-height:16.2px"><span style="transform:scaleX(0.9812)">До</span></div><div class="t c" style="left:404.70px;top:225.99px;font-size:16.2px;line-height:16.2px"><span style="transform:scaleX(0.9882)">120</span></div><div class="t c" style="left:456.00px;top:207.29px;font-size:16.2px;line-height:16.2px"><span style="transform:scaleX(0.9812)">До</span></div><div class="t c" style="left:455.25px;top:225.99px;font-size:16.2px;line-height:16.2px"><span style="transform:scaleX(0.9882)">120</span></div><div class="t c" style="left:505.90px;top:207.29px;font-size:16.2px;line-height:16.2px"><span style="transform:scaleX(0.9812)">До</span></div><div class="t c" style="left:505.20px;top:225.99px;font-size:16.2px;line-height:16.2px"><span style="transform:scaleX(0.9882)">130</span></div><div class="t c" style="left:564.90px;top:207.29px;font-size:16.2px;line-height:16.2px"><span style="transform:scaleX(0.9812)">До</span></div><div class="t c" style="left:564.30px;top:225.99px;font-size:16.2px;line-height:16.2px"><span style="transform:scaleX(0.9882)">130</span></div><div class="t c" style="left:190.70px;top:262.09px;font-size:16.2px;line-height:16.2px"><span style="transform:scaleX(0.8559)">cG</span></div><div class="t c" style="left:295.40px;top:262.09px;font-size:16.2px;line-height:16.2px"><span style="transform:scaleX(0.9380)">42–52</span></div><div class="t c" style="left:354.90px;top:262.09px;font-size:16.2px;line-height:16.2px"><span style="transform:scaleX(0.9827)">50–60</span></div><div class="t c" style="left:405.10px;top:262.09px;font-size:16.2px;line-height:16.2px"><span style="transform:scaleX(0.9827)">50–60</span></div><div class="t c" style="left:454.00px;top:262.09px;font-size:16.2px;line-height:16.2px"><span style="transform:scaleX(0.9608)">58–68</span></div><div class="t c" style="left:503.90px;top:262.09px;font-size:16.2px;line-height:16.2px"><span style="transform:scaleX(0.9608)">58–68</span></div><div class="t c" style="left:564.40px;top:262.09px;font-size:16.2px;line-height:16.2px"><span style="transform:scaleX(0.9827)">66–76</span></div><div class="t c" style="left:190.70px;top:299.09px;font-size:16.2px;line-height:16.2px"><span style="transform:scaleX(0.9063)">cD</span></div><div class="t c" style="left:294.20px;top:299.09px;font-size:16.2px;line-height:16.2px"><span style="transform:scaleX(0.9380)">28–34</span></div><div class="t c" style="left:354.90px;top:299.09px;font-size:16.2px;line-height:16.2px"><span style="transform:scaleX(0.9608)">32–38</span></div><div class="t c" style="left:405.10px;top:299.09px;font-size:16.2px;line-height:16.2px"><span style="transform:scaleX(0.9729)">31–37</span></div><div class="t c" style="left:454.00px;top:299.09px;font-size:16.2px;line-height:16.2px"><span style="transform:scaleX(0.9608)">36–42</span></div><div class="t c" style="left:503.90px;top:299.09px;font-size:16.2px;line-height:16.2px"><span style="transform:scaleX(0.9593)">34–40</span></div><div class="t c" style="left:564.40px;top:299.09px;font-size:16.2px;line-height:16.2px"><span style="transform:scaleX(0.9593)">40–46</span></div><div class="t c" style="left:190.70px;top:335.59px;font-size:16.2px;line-height:16.2px"><span style="transform:scaleX(0.8366)">cB</span></div><div class="t c" style="left:295.40px;top:335.59px;font-size:16.2px;line-height:16.2px"><span style="transform:scaleX(0.9837)">19–23</span></div><div class="t c" style="left:354.90px;top:335.59px;font-size:16.2px;line-height:16.2px"><span style="transform:scaleX(0.9837)">19–23</span></div><div class="t c" style="left:405.10px;top:335.59px;font-size:16.2px;line-height:16.2px"><span style="transform:scaleX(0.9729)">23–26</span></div><div class="t c" style="left:454.00px;top:335.59px;font-size:16.2px;line-height:16.2px"><span style="transform:scaleX(0.9593)">23–26</span></div><div class="t c" style="left:503.90px;top:335.59px;font-size:16.2px;line-height:16.2px"><span style="transform:scaleX(0.9370)">26–29</span></div><div class="t c" style="left:564.40px;top:335.59px;font-size:16.2px;line-height:16.2px"><span style="transform:scaleX(0.9370)">26–29</span></div><div class="t c" style="left:253.70px;top:381.37px;font-size:10.2px;line-height:10.2px;-webkit-text-stroke:0.22px #000"><span style="transform:scaleX(1.0372)">Тип длины</span></div><div class="t c" style="left:344.10px;top:375.07px;font-size:10.2px;line-height:10.2px;-webkit-text-stroke:0.22px #000"><span style="transform:scaleX(1.0355)">Длина,</span></div><div class="t c" style="left:344.40px;top:388.87px;font-size:10.2px;line-height:10.2px;-webkit-text-stroke:0.22px #000"><span style="transform:scaleX(0.9867)">см</span></div><div class="t" style="left:375.60px;top:374.87px;font-size:10.2px;line-height:10.2px;transform:scaleX(1.0401);transform-origin:0 0;-webkit-text-stroke:0.22px #000">Тип длины</div><div class="t c" style="left:487.20px;top:375.37px;font-size:10.2px;line-height:10.2px;-webkit-text-stroke:0.22px #000"><span style="transform:scaleX(1.0588)">Длина,</span></div><div class="t c" style="left:487.50px;top:388.87px;font-size:10.2px;line-height:10.2px;-webkit-text-stroke:0.22px #000"><span style="transform:scaleX(0.9867)">см</span></div><div class="t c" style="left:253.60px;top:408.57px;font-size:10.2px;line-height:10.2px;-webkit-text-stroke:0.22px #000"><span style="transform:scaleX(1.0734)">Нормальный (N)</span></div><div class="t c" style="left:343.50px;top:408.37px;font-size:10.2px;line-height:10.2px;-webkit-text-stroke:0.22px #000"><span style="transform:scaleX(1.0740)">33–37</span></div><div class="t c" style="left:417.20px;top:407.24px;font-size:12px;line-height:12px;-webkit-text-stroke:0.22px #000"><span style="transform:scaleX(0.9607)">Нормальный</span></div><div class="t c" style="left:489.40px;top:408.67px;font-size:10.2px;line-height:10.2px;-webkit-text-stroke:0.22px #000"><span style="transform:scaleX(1.0364)">61–70</span></div><div class="t c" style="left:254.20px;top:428.77px;font-size:10.2px;line-height:10.2px;-webkit-text-stroke:0.22px #000"><span style="transform:scaleX(1.0550)">Длинный (L)</span></div><div class="t c" style="left:343.50px;top:428.57px;font-size:10.2px;line-height:10.2px;-webkit-text-stroke:0.22px #000"><span style="transform:scaleX(1.0357)">38–44</span></div><div class="t c" style="left:418.00px;top:428.87px;font-size:10.2px;line-height:10.2px;-webkit-text-stroke:0.22px #000"><span style="transform:scaleX(1.0525)">Длинный</span></div><div class="t c" style="left:489.40px;top:428.87px;font-size:10.2px;line-height:10.2px;-webkit-text-stroke:0.22px #000"><span style="transform:scaleX(1.0364)">71–80</span></div>
</body></html>
